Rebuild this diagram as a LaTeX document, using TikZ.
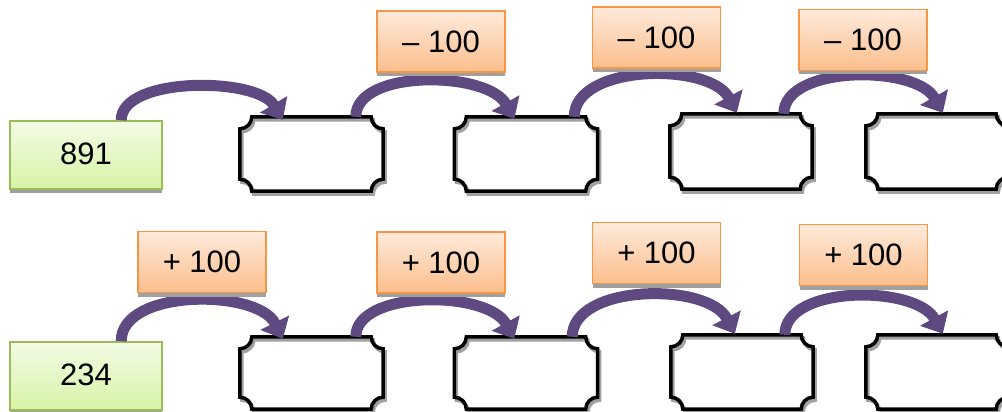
\documentclass[tikz,border=0pt]{standalone}
\usepackage{fontspec}
\setmainfont{Liberation Sans}
\usetikzlibrary{arrows.meta,shadows}
\definecolor{arrowc}{RGB}{94,73,128}
\definecolor{greenb}{RGB}{155,187,89}
\definecolor{greentop}{RGB}{243,251,229}
\definecolor{greenbot}{RGB}{214,243,166}
\definecolor{orangeb}{RGB}{247,150,70}
\definecolor{orangetop}{RGB}{254,234,219}
\definecolor{orangebot}{RGB}{251,190,140}
\definecolor{shadowc}{RGB}{160,160,160}
\def\plr{12pt}
\newcommand\myplaquepath[1]{([xshift=\plr]#1.north west) -- ([xshift=-\plr]#1.north east) arc[start angle=180,end angle=270,radius=\plr] -- ([yshift=\plr]#1.south east) arc[start angle=90,end angle=180,radius=\plr] -- ([xshift=\plr]#1.south west) arc[start angle=0,end angle=90,radius=\plr] -- ([yshift=-\plr]#1.north west) arc[start angle=270,end angle=360,radius=\plr] -- cycle}
\newcommand\myplaque[1]{%
  \draw[shadowc,line width=3.5pt,transform canvas={xshift=2pt,yshift=-3pt}] \myplaquepath{#1};
  \draw[black,line width=3.5pt] \myplaquepath{#1};}
\begin{document}
\begin{tikzpicture}[x=1pt,y=1pt,
  font=\fontsize{31}{34}\selectfont,
  gbox/.style={draw=greenb,line width=1.6pt,top color=greentop,bottom color=greenbot,
    minimum width=152pt,minimum height=68pt,inner sep=0pt,
    drop shadow={shadow xshift=0pt,shadow yshift=-4pt,fill=shadowc,opacity=1}},
  obox/.style={draw=orangeb,line width=1.6pt,top color=orangetop,bottom color=orangebot,
    minimum width=128pt,minimum height=61pt,inner sep=0pt,
    drop shadow={shadow xshift=0pt,shadow yshift=-4pt,fill=shadowc,opacity=1}},
  pbox/.style={draw=none,minimum width=143pt,minimum height=74pt,inner sep=0pt},
  parrow/.style={draw=arrowc,line width=11pt,-{Triangle[width=31pt,length=18pt]}}
]
\useasboundingbox (0,0) rectangle (1002,-412);
% plaque placeholders
\node[pbox] (t1) at (311.5,-154) {};
\node[pbox] (t2) at (526,-154) {};
\node[pbox,minimum width=142pt,minimum height=75pt] (t3) at (741,-151.5) {};
\node[pbox,minimum width=142pt,minimum height=75pt] (t4) at (937,-151.5) {};
\node[pbox,minimum height=72pt] (b1) at (311.5,-373) {};
\node[pbox,minimum height=72pt] (b2) at (526,-373) {};
\node[pbox,minimum width=142pt,minimum height=74pt] (b3) at (742,-372) {};
\node[pbox,minimum width=142pt,minimum height=74pt] (b4) at (937,-372) {};
\myplaque{t1}\myplaque{t2}\myplaque{t3}\myplaque{t4}
\myplaque{b1}\myplaque{b2}\myplaque{b3}\myplaque{b4}
% start boxes
\node[gbox] (g1) at (86,-155) {\raisebox{3pt}{891}};
\node[gbox] (g2) at (86,-376) {\raisebox{3pt}{234}};
% arrows top
\draw[parrow] ([xshift=112pt]g1.north west) .. controls +(0,44) and +(-26,43) .. ([xshift=43pt,yshift=-3pt]t1.north west);
\draw[parrow] ([xshift=116pt]t1.north west) .. controls +(0,48) and +(-27,48) .. ([xshift=60pt,yshift=-2pt]t2.north west);
\draw[parrow] ([xshift=120pt]t2.north west) .. controls +(0,53) and +(-27,51) .. ([xshift=67pt,yshift=1pt]t3.north west);
\draw[parrow] ([xshift=114pt]t3.north west) .. controls +(0,49) and +(-27,48) .. ([xshift=77pt,yshift=1pt]t4.north west);
% arrows bottom
\draw[parrow] ([xshift=112pt]g2.north west) .. controls +(0,53) and +(-25,50) .. ([xshift=43pt,yshift=-2pt]b1.north west);
\draw[parrow] ([xshift=116pt]b1.north west) .. controls +(0,47) and +(-27,49) .. ([xshift=60pt,yshift=-2pt]b2.north west);
\draw[parrow] ([xshift=118pt]b2.north west) .. controls +(0,53) and +(-27,52) .. ([xshift=64pt,yshift=1pt]b3.north west);
\draw[parrow] ([xshift=114pt]b3.north west) .. controls +(0,50) and +(-27,49) .. ([xshift=77pt,yshift=1pt]b4.north west);
% labels
\node[obox] (o1) at (441,-41.5) {– 100};
\node[obox] (o2) at (656.5,-37.5) {– 100};
\node[obox] (o3) at (863,-40) {– 100};
\node[obox] (p1) at (202,-262) {+ 100};
\node[obox] (p2) at (441,-262.5) {+ 100};
\node[obox] (p3) at (656.5,-253) {+ 100};
\node[obox] (p4) at (863.5,-255) {+ 100};
\end{tikzpicture}
\end{document}
